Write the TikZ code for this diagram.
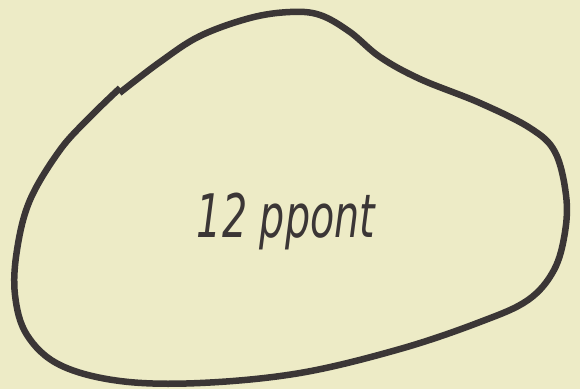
\documentclass[tikz,border=0pt]{standalone}
\usepackage{fontspec}
\usepackage{tikz}
\usetikzlibrary{positioning}
\newfontfamily\kezfont{DejaVu Sans}
\definecolor{papirSarga}{HTML}{EDEBC6}
\definecolor{tintaSzurke}{HTML}{3B3636}

\begin{document}
\begin{tikzpicture}[x=1pt, y=-1pt,
  korvonal/.style={draw=tintaSzurke, line width=6.5pt, line cap=butt, line join=round},
  felirat/.style={text=tintaSzurke, anchor=base, xscale=0.66,
                  font=\kezfont\itshape\fontsize{60}{66}\selectfont}]
\fill[papirSarga] (0,0) rectangle (580,389);
\useasboundingbox (0,0) rectangle (580,389);
% closed outline, with the small step at top left
\draw[korvonal] plot[smooth, tension=0.6] coordinates {
  (119.5,93) (160,62) (200,36) (250,18) (290,12) (320,15) (350,32) (380,57)
  (420,79) (480,103) (530,128) (555,152) (566,195) (565,232) (554,270)
  (528,300) (480,322) (400,349) (300,373) (200,383) (120,381) (60,365)
  (27,335) (15,295) (17,250) (30,200) (60,150) (90,117) (120,88)};
\node[felirat] (lbl) at (286,237) {12 ppont};
\end{tikzpicture}
\end{document}
